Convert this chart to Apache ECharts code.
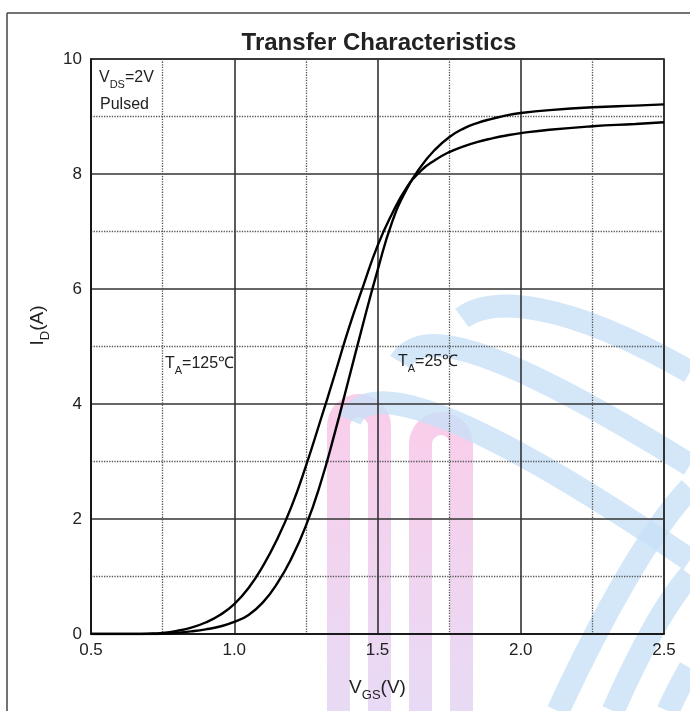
<!DOCTYPE html>
<html><head><meta charset="utf-8">
<script src="https://cdn.jsdelivr.net/npm/echarts@6/dist/echarts.min.js"></script>
<style>html,body{margin:0;padding:0;background:#fff}#c{width:690px;height:711px}</style>
</head><body><div id="c"></div>
<script>
// ---- data ----
const vgs125 = [0.5,0.65,0.7,0.75,0.8,0.85,0.9,0.95,1.0,1.05,1.1,1.15,1.2,1.25,1.3,1.35,1.4,1.45,1.5,1.55,1.6,1.65,1.7,1.75,1.8,1.85,1.9,1.95,2.0,2.1,2.25,2.4,2.5];
const id125  = [0,0,0.005,0.02,0.055,0.11,0.2,0.33,0.52,0.8,1.18,1.65,2.22,2.92,3.7,4.5,5.32,6.05,6.75,7.3,7.75,8.05,8.24,8.38,8.48,8.56,8.62,8.67,8.71,8.77,8.83,8.87,8.9];
const vgs25  = [0.5,0.7,0.75,0.8,0.85,0.9,0.95,1.0,1.05,1.1,1.15,1.2,1.25,1.3,1.35,1.4,1.45,1.5,1.55,1.6,1.65,1.7,1.75,1.8,1.85,1.9,1.95,2.0,2.1,2.25,2.4,2.5];
const id25   = [0,0,0.005,0.02,0.045,0.08,0.13,0.21,0.33,0.55,0.88,1.32,1.88,2.6,3.48,4.44,5.4,6.32,7.15,7.72,8.12,8.42,8.64,8.79,8.89,8.96,9.02,9.06,9.11,9.16,9.19,9.21];
const xTickLabels = ['0.5','1.0','1.5','2.0','2.5'];
const yTickLabels = ['0','2','4','6','8','10'];
const titleText = 'Transfer Characteristics';

const FONT = '"Liberation Sans", Arial, Helvetica, sans-serif';
const zip = (a, b) => a.map((v, i) => [v, b[i]]);

const chart = echarts.init(document.getElementById('c'), null, {renderer: 'canvas'});

// ---- decorative watermark (background only) ----
const pinkGrad = new echarts.graphic.LinearGradient(0, 0, 0, 1, [
  {offset: 0, color: 'rgba(247,198,232,0.85)'},
  {offset: 1, color: 'rgba(228,212,243,0.85)'}
]);
const blue = 'rgba(200,225,247,0.8)';
const watermark = [];
[[327, 368, 426], [409, 450, 444]].forEach(([xa, xb, cy]) => {
  [xa, xb].forEach(x => watermark.push({type: 'rect', z: -10, silent: true,
    shape: {x: x, y: cy, width: 23, height: 711 - cy}, style: {fill: pinkGrad}}));
  watermark.push({type: 'sector', z: -10, silent: true,
    shape: {cx: (xa + xb + 23) / 2, cy: cy, r0: (xb - xa - 23) / 2, r: (xb - xa + 23) / 2,
      startAngle: Math.PI, endAngle: 2 * Math.PI, clockwise: true},
    style: {fill: 'rgba(247,198,232,0.85)'}});
});
// [x1,y1,cpx1,cpy1,cpx2,cpy2,x2,y2]
const blueBands = [
  [350,420, 365,385, 440,390, 690,560],
  [400,362, 420,330, 480,335, 690,465],
  [462,318, 492,296, 565,300, 690,372],
  [558,711, 600,620, 650,530, 690,488],
  [613,711, 640,650, 668,600, 690,575],
  [668,711, 675,695, 683,680, 690,668]
];
blueBands.forEach(b => watermark.push({
  type: 'bezierCurve', z: -9, silent: true,
  shape: {x1: b[0], y1: b[1], cpx1: b[2], cpy1: b[3], cpx2: b[4], cpy2: b[5], x2: b[6], y2: b[7]},
  style: {fill: null, stroke: blue, lineWidth: 23}
}));

const frame = [
  {type: 'line', shape: {x1: 7, y1: 13, x2: 690, y2: 13}, style: {stroke: '#444', lineWidth: 1.5}},
  {type: 'line', shape: {x1: 7, y1: 13, x2: 7, y2: 711}, style: {stroke: '#444', lineWidth: 1.5}}
];

function richSet(size, sub, lh) {
  return {
    n: {fontFamily: FONT, fontSize: size, color: '#222', lineHeight: lh, verticalAlign: 'middle'},
    s: {fontFamily: FONT, fontSize: sub, color: '#222', lineHeight: lh, verticalAlign: 'bottom'}
  };
}
const annRich = richSet(16, 11, 24);
const nameRich = richSet(19, 13, 28);
function annot(x, y, text) {
  return {type: 'text', x: x, y: y, z: 10,
    style: {text: text, rich: annRich, font: '16px ' + FONT, fill: '#222', verticalAlign: 'middle'}};
}

const option = {
  animation: false,
  backgroundColor: '#fff',
  title: {
    text: titleText, left: 374, top: 26, textAlign: 'center',
    textStyle: {fontFamily: FONT, fontWeight: 'bold', fontSize: 24, color: '#222'}
  },
  grid: {left: 91, right: 26, top: 59, bottom: 77, show: true, borderColor: '#111', borderWidth: 1.6, backgroundColor: 'transparent'},
  xAxis: {
    type: 'value', min: 0.5, max: 2.5, interval: 0.5,
    axisLine: {show: true, lineStyle: {color: '#111', width: 1.6}},
    axisTick: {show: false},
    axisLabel: {fontFamily: FONT, fontSize: 17, color: '#222', margin: 8,
      formatter: v => xTickLabels[Math.round((v - 0.5) / 0.5)]},
    splitLine: {show: true, lineStyle: {color: '#333', width: 1.6}},
    minorTick: {show: false, splitNumber: 2},
    minorSplitLine: {show: true, lineStyle: {color: '#555', width: 1.3, type: [1.3, 1.3]}},
    name: '{n|V}{s|GS}{n|(V)}', nameLocation: 'middle', nameGap: 40,
    nameTextStyle: {rich: nameRich, fontFamily: FONT, fontSize: 19, color: '#222'}
  },
  yAxis: {
    type: 'value', min: 0, max: 10, interval: 2,
    axisLine: {show: true, lineStyle: {color: '#111', width: 1.6}},
    axisTick: {show: false},
    axisLabel: {fontFamily: FONT, fontSize: 17, color: '#222', margin: 9,
      formatter: v => yTickLabels[Math.round(v / 2)]},
    splitLine: {show: true, lineStyle: {color: '#333', width: 1.6}},
    minorTick: {show: false, splitNumber: 2},
    minorSplitLine: {show: true, lineStyle: {color: '#555', width: 1.3, type: [1.3, 1.3]}},
    name: '{n|I}{s|D}{n|(A)}', nameLocation: 'middle', nameGap: 37, nameRotate: 90,
    nameTextStyle: {rich: nameRich, fontFamily: FONT, fontSize: 19, color: '#222', padding: [0, 0, 0, 42]}
  },
  graphic: watermark.concat(frame).concat([
    annot(99, 78, '{n|V}{s|DS}{n|=2V}'),
    annot(100, 105, '{n|Pulsed}'),
    annot(165, 364, '{n|T}{s|A}{n|=125℃}'),
    annot(398, 362, '{n|T}{s|A}{n|=25℃}')
  ]),
  series: [
    {name: 'TA=125C', type: 'line', data: zip(vgs125, id125), showSymbol: false, smooth: 0.5,
      lineStyle: {color: '#000', width: 2.4}, z: 5},
    {name: 'TA=25C', type: 'line', data: zip(vgs25, id25), showSymbol: false, smooth: 0.5,
      lineStyle: {color: '#000', width: 2.4}, z: 5}
  ]
};
chart.setOption(option);
</script></body></html>
